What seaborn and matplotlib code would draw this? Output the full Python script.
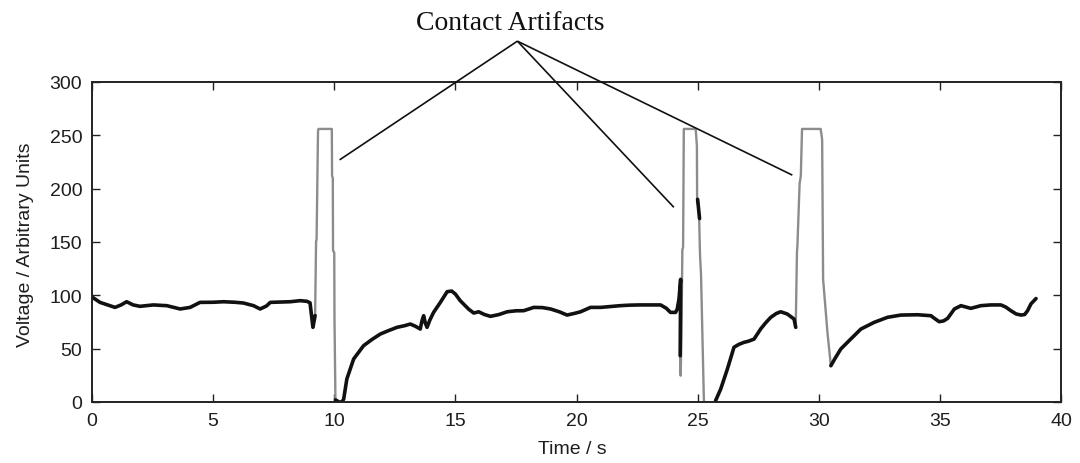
import numpy as np
import pandas as pd
import matplotlib
matplotlib.use("Agg")
import matplotlib.pyplot as plt
import seaborn as sns

# ---- recorded trace, split into clean-contact stretches and saturated artifacts ----
signal_1_t = [0.0, 0.33, 0.95, 1.2, 1.43, 1.7, 1.98, 2.53, 3.09, 3.64, 4.05, 4.46, 5.0, 5.43,
              5.9, 6.25, 6.67, 6.94, 7.2, 7.36, 8.18, 8.6, 8.87, 9.0, 9.12, 9.21]
signal_1_v = [98.4, 93.4, 88.7, 91.0, 94.0, 91.0, 89.7, 91.0, 90.3, 87.2, 88.7, 93.4, 93.5, 94.0,
              93.5, 92.8, 90.3, 87.2, 90.0, 93.4, 94.0, 95.0, 94.4, 93.0, 70.0, 81.0]

artifact_1_t = [9.21, 9.25, 9.27, 9.33, 9.35, 9.90, 9.91, 9.94, 9.95, 10.0, 10.01, 10.05]
artifact_1_v = [81.0, 151.0, 152.0, 254.0, 256.0, 256.0, 212.0, 210.0, 142.0, 140.0, 78.0, 0.0]

signal_2_t = [10.05, 10.2, 10.32, 10.39, 10.52, 10.8, 11.21, 11.55, 11.9, 12.25, 12.59, 12.9,
              13.14, 13.35, 13.55, 13.62, 13.69, 13.76, 13.83, 13.95, 14.1, 14.38, 14.66, 14.85,
              15.0, 15.2, 15.34, 15.55, 15.76, 15.96, 16.2, 16.45, 16.8, 17.14, 17.5, 17.82,
              18.24, 18.6, 18.93, 19.3, 19.61, 19.9, 20.17, 20.58, 21.0, 21.4, 21.8, 22.2, 22.6,
              23.0, 23.47, 23.7, 23.88, 24.09, 24.16, 24.23, 24.3, 24.28]
signal_2_v = [2.0, 0.0, 0.0, 2.8, 21.6, 40.3, 52.8, 58.5, 63.7, 67.0, 70.0, 71.5,
              73.1, 71.0, 68.4, 76.0, 80.9, 74.0, 70.0, 77.0, 84.0, 93.4, 103.4, 104.0,
              101.2, 95.0, 91.8, 87.0, 83.4, 84.6, 82.0, 80.3, 82.0, 84.6, 85.5, 85.6,
              88.7, 88.5, 87.2, 84.5, 81.5, 83.0, 84.6, 88.7, 88.7, 89.5, 90.3, 90.8, 91.0,
              91.0, 91.0, 88.0, 84.0, 84.0, 87.2, 96.5, 115.0, 43.4]

artifact_2_t = [24.28, 24.30, 24.33, 24.37, 24.40, 24.43, 24.92, 24.97, 24.98, 25.02, 25.06,
                25.10, 25.14, 25.20, 25.26]
artifact_2_v = [43.4, 24.7, 60.0, 143.0, 145.0, 256.0, 256.0, 240.0, 187.0, 185.0, 175.0,
                137.0, 120.0, 60.0, 0.0]

signal_2b_t = [25.0, 25.04, 25.08]
signal_2b_v = [190.0, 181.0, 172.0]

signal_3_t = [25.74, 25.95, 26.23, 26.5, 26.7, 26.91, 27.1, 27.33, 27.6, 27.8, 28.02, 28.25,
              28.43, 28.7, 28.98, 29.05]
signal_3_v = [1.2, 12.0, 31.0, 51.3, 54.0, 55.9, 57.0, 59.0, 68.4, 74.0, 79.4, 83.0,
              84.6, 82.5, 77.8, 70.0]

artifact_3_t = [29.05, 29.10, 29.12, 29.21, 29.26, 29.31, 30.08, 30.14, 30.18, 30.36, 30.50]
artifact_3_v = [70.0, 140.0, 147.0, 205.0, 212.0, 256.0, 256.0, 246.0, 115.0, 65.0, 34.0]

signal_4_t = [30.5, 30.65, 30.91, 31.32, 31.74, 32.29, 32.84, 33.39, 34.08, 34.63, 34.8, 34.97,
              35.15, 35.32, 35.6, 35.87, 36.08, 36.28, 36.69, 37.1, 37.52, 37.72, 37.93, 38.15,
              38.35, 38.5, 38.62, 38.76, 38.97]
signal_4_v = [34.0, 40.0, 49.7, 59.0, 68.4, 74.7, 79.4, 81.5, 81.8, 80.9, 78.0, 75.3,
              76.0, 78.4, 87.2, 90.3, 89.0, 87.8, 90.3, 91.0, 91.0, 89.0, 85.6, 82.5,
              81.5, 82.0, 85.6, 92.0, 97.0]

# callout: label anchor and the artifact each leader points at
callout_text = "Contact Artifacts"
callout_apex = (17.56, 338.3)
callout_targets_t = [10.22, 24.02, 28.91]
callout_targets_v = [227.0, 182.5, 212.7]

x_ticks = [0, 5, 10, 15, 20, 25, 30, 35, 40]
y_ticks = [0, 50, 100, 150, 200, 250, 300]

pieces = [
    ("artifact", artifact_1_t, artifact_1_v),
    ("artifact", artifact_2_t, artifact_2_v),
    ("artifact", artifact_3_t, artifact_3_v),
    ("signal", signal_1_t, signal_1_v),
    ("signal", signal_2_t, signal_2_v),
    ("signal", signal_2b_t, signal_2b_v),
    ("signal", signal_3_t, signal_3_v),
    ("signal", signal_4_t, signal_4_v),
]
frames = []
for i, (kind, t, v) in enumerate(pieces):
    frames.append(pd.DataFrame({"time": t, "voltage": v, "segment": i, "trace": kind}))
df = pd.concat(frames, ignore_index=True)

sns.set_theme(style="white")
plt.rcParams["font.family"] = ["Liberation Sans", "DejaVu Sans"]

fig = plt.figure(figsize=(10.8, 4.64), dpi=100)
ax = fig.add_axes([92 / 1080, 61 / 464, 969 / 1080, 320 / 464])

sns.lineplot(data=df, x="time", y="voltage", units="segment", estimator=None, sort=False,
             hue="trace", palette={"signal": "#111111", "artifact": "#8c8c8c"},
             size="trace", sizes={"signal": 2.6, "artifact": 1.7},
             legend=False, ax=ax)

ax.set_xlim(0, 40)
ax.set_ylim(0, 300)
ax.set_xticks(x_ticks)
ax.set_yticks(y_ticks)
ax.set_xticklabels([str(v) for v in x_ticks])
ax.set_yticklabels([str(v) for v in y_ticks])

text_color = "#1e1e1e"
ax.tick_params(axis="both", which="both", direction="in", length=5.5, width=1.0,
               top=True, right=True, bottom=True, left=True, pad=7,
               labelsize=14, labelcolor=text_color, color="#222222")
for side in ["top", "bottom", "left", "right"]:
    ax.spines[side].set_visible(True)
    ax.spines[side].set_color("#222222")
    ax.spines[side].set_linewidth(1.4)

ax.set_xlabel("Time / s", fontsize=14, color=text_color)
ax.set_ylabel("Voltage / Arbitrary Units", fontsize=14, color=text_color)
ax.xaxis.set_label_coords(0.496, -0.144)
ax.xaxis.label.set_va("center")
ax.yaxis.set_label_coords(-0.069, 0.494)
ax.yaxis.label.set_va("center")
ax.yaxis.label.set_ha("center")

# leader lines from the callout down to each artifact
for tx, ty in zip(callout_targets_t, callout_targets_v):
    ax.plot([callout_apex[0], tx], [callout_apex[1], ty], color="#111111", lw=1.2,
            clip_on=False, zorder=5, solid_capstyle="butt")

fig.text(510 / 1080, 1 - 23 / 464, callout_text, ha="center", va="center",
         fontsize=20, family=["Liberation Serif", "DejaVu Serif"], color="#111111")

fig.savefig("out.png", dpi=100, facecolor="white")
